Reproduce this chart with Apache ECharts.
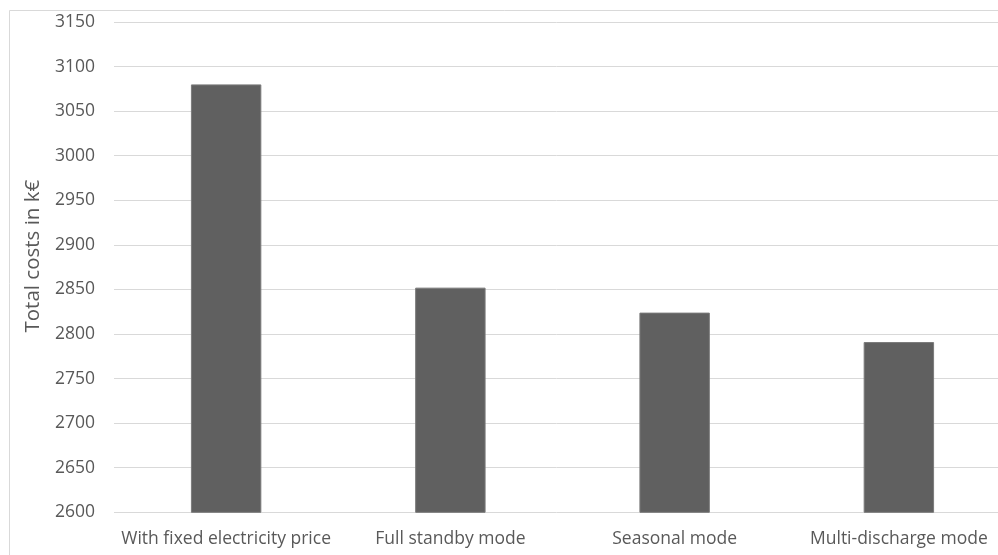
<!DOCTYPE html>
<html>
<head>
<meta charset="utf-8">
<script src="https://cdn.jsdelivr.net/npm/echarts@6/dist/echarts.min.js"></script>
<style>
  html, body { margin: 0; padding: 0; background: #ffffff; }
  #chart { width: 998px; height: 555px; }
</style>
</head>
<body>
<div id="chart"></div>
<script>
// Total costs per operating mode (k€)
const categories = [
  'With fixed electricity price',
  'Full standby mode',
  'Seasonal mode',
  'Multi-discharge mode'
];
const totalCosts = [3080, 2852, 2824, 2791];
const yMin = 2600;
const yMax = 3150;
const yStep = 50;

const chart = echarts.init(document.getElementById('chart'));
const font = '"Open Sans", "Liberation Sans", sans-serif';

chart.setOption({
  animation: false,
  backgroundColor: '#ffffff',
  graphic: [{
    type: 'rect',
    shape: { x: 9.5, y: 10.5, width: 1100, height: 700 },
    style: { fill: 'none', stroke: '#d9d9d9', lineWidth: 1 },
    silent: true
  }],
  // plot area runs past the right edge of the canvas
  grid: {
    left: 114, top: 22, width: 897, height: 490.3,
    outerBoundsMode: 'none', containLabel: false
  },
  xAxis: {
    type: 'category',
    data: categories,
    axisLine: { show: false },
    axisTick: { show: false },
    axisLabel: {
      color: '#595959',
      fontFamily: font,
      fontSize: 17.5,
      margin: 18,
      interval: 0
    }
  },
  yAxis: {
    type: 'value',
    min: yMin,
    max: yMax,
    interval: yStep,
    name: 'Total costs in k€',
    nameLocation: 'middle',
    nameGap: 70,
    nameRotate: 90,
    nameTextStyle: {
      color: '#595959',
      fontFamily: font,
      fontSize: 20.5,
      padding: [0, 0, 0, 22]
    },
    axisLine: { show: false },
    axisTick: { show: false },
    axisLabel: {
      color: '#595959',
      fontFamily: font,
      fontSize: 17.5,
      margin: 19,
      formatter: v => String(v)
    },
    splitLine: { lineStyle: { color: '#d9d9d9', width: 1 } }
  },
  series: [{
    type: 'bar',
    data: totalCosts,
    barWidth: '31.4%',
    itemStyle: { color: '#606060', borderColor: '#7a7a7a', borderWidth: 1 }
  }]
});
</script>
</body>
</html>
